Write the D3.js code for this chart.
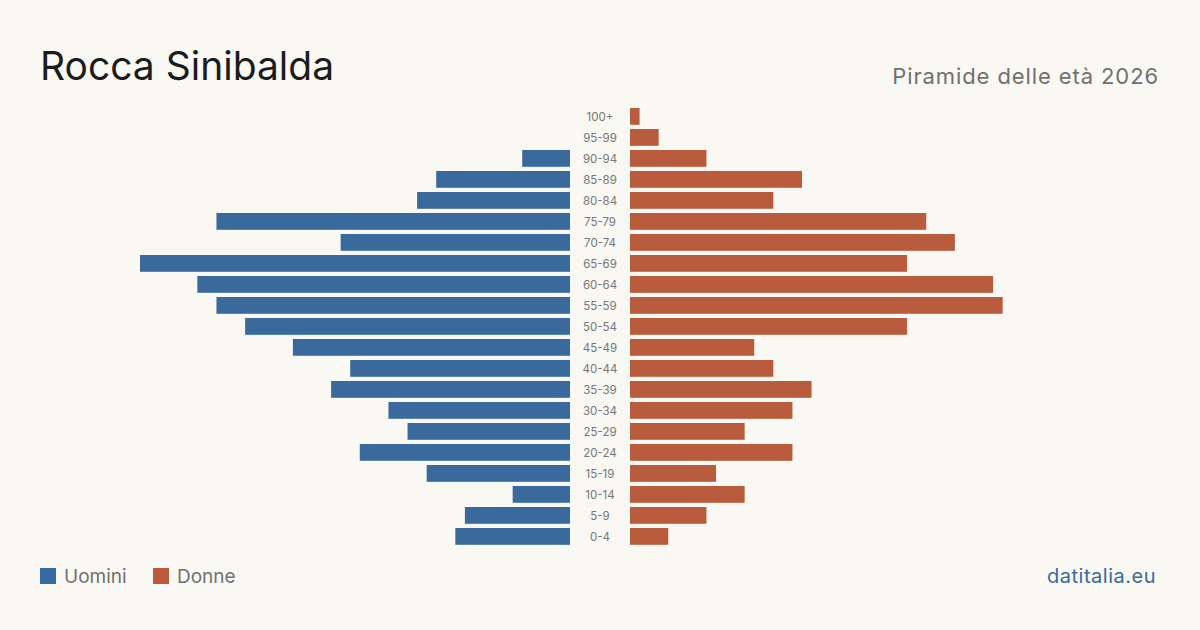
<!DOCTYPE html>
<html>
<head>
<meta charset="utf-8">
<script src="https://cdn.jsdelivr.net/npm/d3@7"></script>
<style>
  body { margin: 0; background: #f9f8f3; }
  svg { display: block; font-family: Inter, "Noto Sans", sans-serif; }
</style>
</head>
<body>
<div id="chart"></div>
<script>
var svgWidth = 1200;
var svgHeight = 630;

// age groups, top to bottom
var ageGroups = ["100+", "95-99", "90-94", "85-89", "80-84", "75-79", "70-74", "65-69",
  "60-64", "55-59", "50-54", "45-49", "40-44", "35-39", "30-34", "25-29",
  "20-24", "15-19", "10-14", "5-9", "0-4"];
var men = [0, 0, 5, 14, 16, 37, 24, 45, 39, 37, 34, 29, 23, 25, 19, 17, 22, 15, 6, 11, 12];
var women = [1, 3, 8, 18, 15, 31, 34, 29, 38, 39, 29, 13, 15, 19, 17, 12, 17, 9, 12, 8, 4];

var title = "Rocca Sinibalda";
var subtitle = "Piramide delle età 2026";
var legendLabels = ["Uomini", "Donne"];
var colors = ["#3a6a9b", "#b95c3d"];

var svg = d3.select("#chart")
  .append("svg")
  .attr("width", svgWidth)
  .attr("height", svgHeight);

svg.append("rect")
  .attr("width", svgWidth)
  .attr("height", svgHeight)
  .attr("fill", "#f9f8f3");

var centerLeft = 570;
var centerRight = 630;

var maxVal = d3.max(men.concat(women));
var x = d3.scaleLinear()
  .domain([0, maxVal])
  .range([0, 430]);

var y = d3.scaleBand()
  .domain(ageGroups)
  .range([105.9, 546.9])
  .paddingInner(0.2)
  .paddingOuter(0.1);

var rows = ageGroups.map(function (a, i) {
  return { age: a, m: men[i], f: women[i] };
});

// men bars
svg.append("g").selectAll("rect")
  .data(rows.filter(d => d.m > 0))
  .enter()
  .append("rect")
  .attr("x", d => centerLeft - x(d.m))
  .attr("y", d => y(d.age))
  .attr("width", d => x(d.m))
  .attr("height", y.bandwidth())
  .attr("fill", colors[0]);

// women bars
svg.append("g").selectAll("rect")
  .data(rows.filter(d => d.f > 0))
  .enter()
  .append("rect")
  .attr("x", centerRight)
  .attr("y", d => y(d.age))
  .attr("width", d => x(d.f))
  .attr("height", y.bandwidth())
  .attr("fill", colors[1]);

// age labels
svg.append("g").selectAll("text")
  .data(ageGroups)
  .enter()
  .append("text")
  .attr("x", (centerLeft + centerRight) / 2)
  .attr("y", d => y(d) + y.bandwidth() / 2 + 1)
  .attr("dy", "0.35em")
  .attr("text-anchor", "middle")
  .attr("font-size", 11.5)
  .attr("fill", "#777")
  .text(d => d);

// title
svg.append("text")
  .attr("x", 40)
  .attr("y", 80)
  .attr("font-size", 39)
  .attr("fill", "#1c1c1c")
  .text(title);

svg.append("text")
  .attr("x", 1159)
  .attr("y", 84)
  .attr("text-anchor", "end")
  .attr("font-size", 22)
  .attr("letter-spacing", 0.9)
  .attr("fill", "#707070")
  .text(subtitle);

// legend
var legend = svg.append("g");
var legendX = [40, 153];
legendLabels.forEach(function (lab, i) {
  legend.append("rect")
    .attr("x", legendX[i])
    .attr("y", 568)
    .attr("width", 16)
    .attr("height", 16)
    .attr("fill", colors[i]);
  legend.append("text")
    .attr("x", legendX[i] + 24)
    .attr("y", 583)
    .attr("font-size", 19)
    .attr("fill", "#707070")
    .text(lab);
});

svg.append("text")
  .attr("x", 1156)
  .attr("y", 583)
  .attr("text-anchor", "end")
  .attr("font-size", 20)
  .attr("letter-spacing", 0.5)
  .attr("fill", "#3a6a9b")
  .text("datitalia.eu");
</script>
</body>
</html>
